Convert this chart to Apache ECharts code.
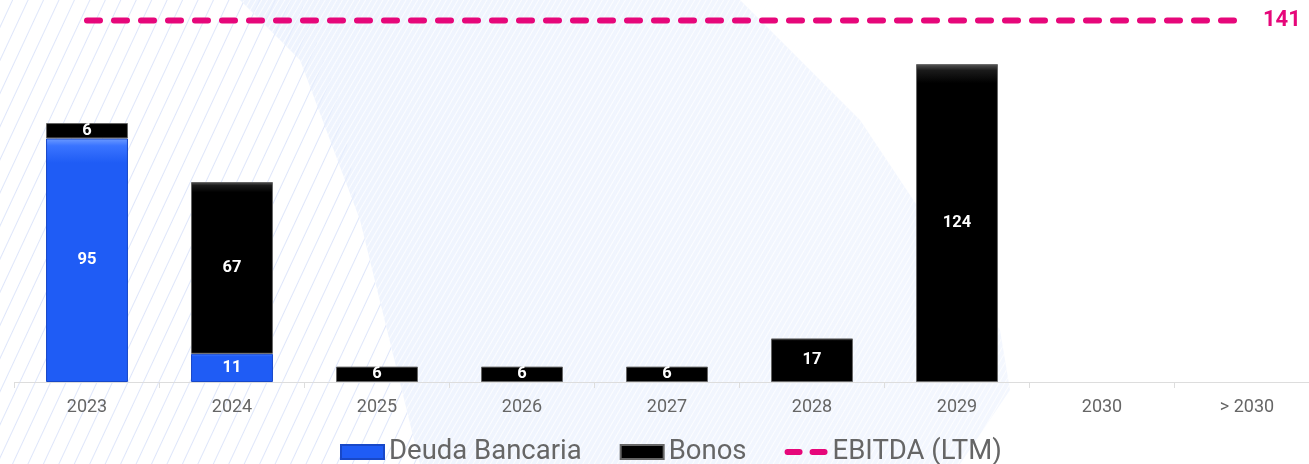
<!DOCTYPE html>
<html>
<head>
<meta charset="utf-8">
<script src="https://cdn.jsdelivr.net/npm/echarts@6/dist/echarts.min.js"></script>
<style>
  html, body { margin: 0; padding: 0; width: 1309px; height: 464px; overflow: hidden; background: #ffffff; }
  #bg1 { position: absolute; left: 0; top: 0; width: 1309px; height: 464px;
    background: repeating-linear-gradient(-65deg, rgba(200,215,250,0.0) 0px, rgba(200,215,250,0.0) 12px, rgba(190,205,245,0.5) 13px, rgba(200,215,250,0.0) 14px);
    clip-path: polygon(0 0, 300px 0, 340px 100px, 360px 220px, 420px 464px, 0 464px); }
  #bg2 { position: absolute; left: 0; top: 0; width: 1309px; height: 464px;
    background: linear-gradient(90deg, rgba(230,238,253,0.75), rgba(238,243,254,0.55));
    clip-path: polygon(240px 0, 740px 0, 860px 120px, 1000px 330px, 1010px 390px, 960px 464px, 420px 464px, 360px 220px, 300px 60px); }
  #bg3 { position: absolute; left: 0; top: 0; width: 1309px; height: 464px;
    background: repeating-linear-gradient(-60deg, rgba(255,255,255,0) 0px, rgba(255,255,255,0) 3px, rgba(255,255,255,0.8) 4px, rgba(255,255,255,0) 5px);
    clip-path: polygon(240px 0, 740px 0, 860px 120px, 1000px 330px, 1010px 390px, 960px 464px, 420px 464px, 360px 220px, 300px 60px); }
  #chart { position: absolute; left: 0; top: 0; width: 1309px; height: 464px; }
</style>
</head>
<body>
<div id="bg1"></div>
<div id="bg2"></div>
<div id="bg3"></div>
<div id="chart"></div>
<script>
const categories = ['2023', '2024', '2025', '2026', '2027', '2028', '2029', '2030', '> 2030'];
const deudaBancaria = [95, 11, null, null, null, null, null, null, null];
const bonos = [6, 67, 6, 6, 6, 17, 124, null, null];
const ebitda = [141, 141, 141, 141, 141, 141, 141, 141, 141];

const chart = echarts.init(document.getElementById('chart'), null, { renderer: 'canvas' });
const barLabel = {
  show: true, position: 'inside', color: '#ffffff', fontWeight: 'bold',
  fontSize: 16.5, fontFamily: 'Roboto, sans-serif'
};
const pink = '#e6077a';
const dashIcon = 'path://M0,0 L0.01,0 Z M0,14 L0.01,14 Z M3,4 H15 A3,3 0 0 1 15,10 H3 A3,3 0 0 1 3,4 Z M28,4 H40 A3,3 0 0 1 40,10 H28 A3,3 0 0 1 28,4 Z M43,0 L42.99,0 Z';
chart.setOption({
  backgroundColor: 'transparent',
  animation: false,
  grid: { left: 14.5, width: 1305, top: 0, bottom: 82, containLabel: false, outerBoundsMode: 'none' },
  legend: {
    bottom: -7, left: 335, itemWidth: 43, itemHeight: 14, itemGap: 38,
    textStyle: { fontSize: 27.5, color: '#666666', fontFamily: 'Roboto, sans-serif' },
    data: [
      { name: 'Deuda Bancaria', icon: 'rect' },
      { name: 'Bonos', icon: 'rect' },
      { name: 'EBITDA (LTM)', icon: dashIcon, itemStyle: { color: pink } }
    ]
  },
  xAxis: {
    type: 'category', data: categories, boundaryGap: true,
    axisLine: { show: true, lineStyle: { color: '#dddddd', width: 1 } },
    axisTick: { show: true, length: 6, lineStyle: { color: '#dddddd' } },
    axisLabel: { color: '#666666', fontSize: 18, margin: 16, fontFamily: 'Roboto, sans-serif' }
  },
  yAxis: { type: 'value', min: 0, max: 149, show: false, splitLine: { show: false } },
  series: [
    {
      name: 'Deuda Bancaria', type: 'bar', stack: 'deuda', data: deudaBancaria,
      barWidth: '56.5%',
      itemStyle: {
        color: new echarts.graphic.LinearGradient(0, 0, 0, 1, [
          { offset: 0, color: '#6d9bff' }, { offset: 0.03, color: '#3a74ff' },
          { offset: 0.1, color: '#1f5cf5' }, { offset: 1, color: '#1f5cf5' }
        ]),
        borderColor: '#1848c8', borderWidth: 1
      },
      label: barLabel
    },
    {
      name: 'Bonos', type: 'bar', stack: 'deuda', data: bonos,
      itemStyle: {
        color: new echarts.graphic.LinearGradient(0, 0, 0, 1, [
          { offset: 0, color: '#555555' }, { offset: 0.02, color: '#1a1a1a' },
          { offset: 0.06, color: '#000000' }, { offset: 1, color: '#000000' }
        ]),
        borderColor: '#666666', borderWidth: 1
      },
      label: barLabel
    },
    {
      name: 'EBITDA (LTM)', type: 'line', data: ebitda, symbol: 'none',
      lineStyle: { color: pink, width: 6, type: [13, 14], cap: 'round' },
      itemStyle: { color: pink },
      endLabel: {
        show: true, distance: 16, formatter: '{c}',
        color: pink, fontWeight: 'bold', fontSize: 22, fontFamily: 'Roboto, sans-serif'
      },
      z: 5
    }
  ]
});
</script>
</body>
</html>
